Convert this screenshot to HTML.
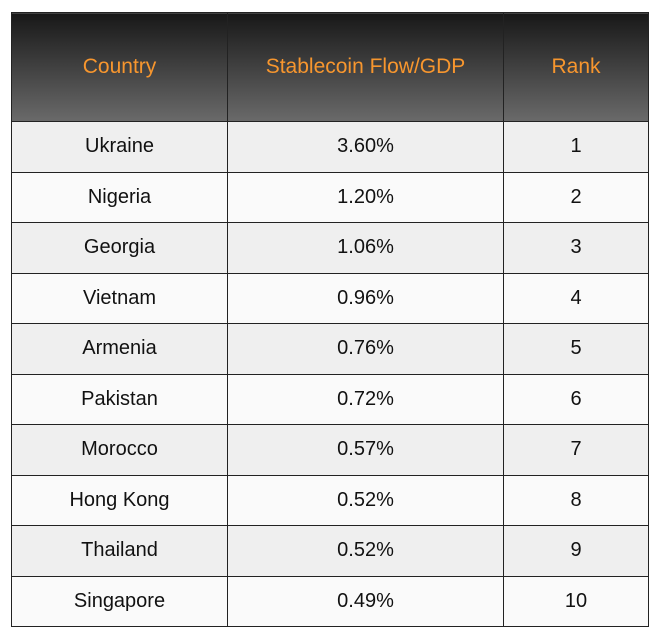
<!DOCTYPE html>
<html><head><style>
body{margin:0;background:#fff;width:658px;height:633px;overflow:hidden;font-family:"Liberation Sans",sans-serif;}
table{position:absolute;left:11px;top:12px;border-collapse:collapse;width:638px;table-layout:fixed;}
th{height:108px;padding:0;background:linear-gradient(#181818,#6a6a6a);color:#f7962e;font-weight:normal;font-size:21px;border:1.5px solid #222;}
td{height:49.5px;text-align:center;font-size:20px;color:#111;border:1.5px solid #222;padding:0;}
tr:nth-child(odd) td{background:#efefef;}
tr:nth-child(even) td{background:#fafafa;}
</style></head><body>
<table>
<colgroup><col style="width:216px"><col style="width:276px"><col></colgroup>
<thead><tr><th>Country</th><th>Stablecoin Flow/GDP</th><th>Rank</th></tr></thead>
<tbody>
<tr><td>Ukraine</td><td>3.60%</td><td>1</td></tr>
<tr><td>Nigeria</td><td>1.20%</td><td>2</td></tr>
<tr><td>Georgia</td><td>1.06%</td><td>3</td></tr>
<tr><td>Vietnam</td><td>0.96%</td><td>4</td></tr>
<tr><td>Armenia</td><td>0.76%</td><td>5</td></tr>
<tr><td>Pakistan</td><td>0.72%</td><td>6</td></tr>
<tr><td>Morocco</td><td>0.57%</td><td>7</td></tr>
<tr><td>Hong Kong</td><td>0.52%</td><td>8</td></tr>
<tr><td>Thailand</td><td>0.52%</td><td>9</td></tr>
<tr><td>Singapore</td><td>0.49%</td><td>10</td></tr>
</tbody></table>
</body></html>
